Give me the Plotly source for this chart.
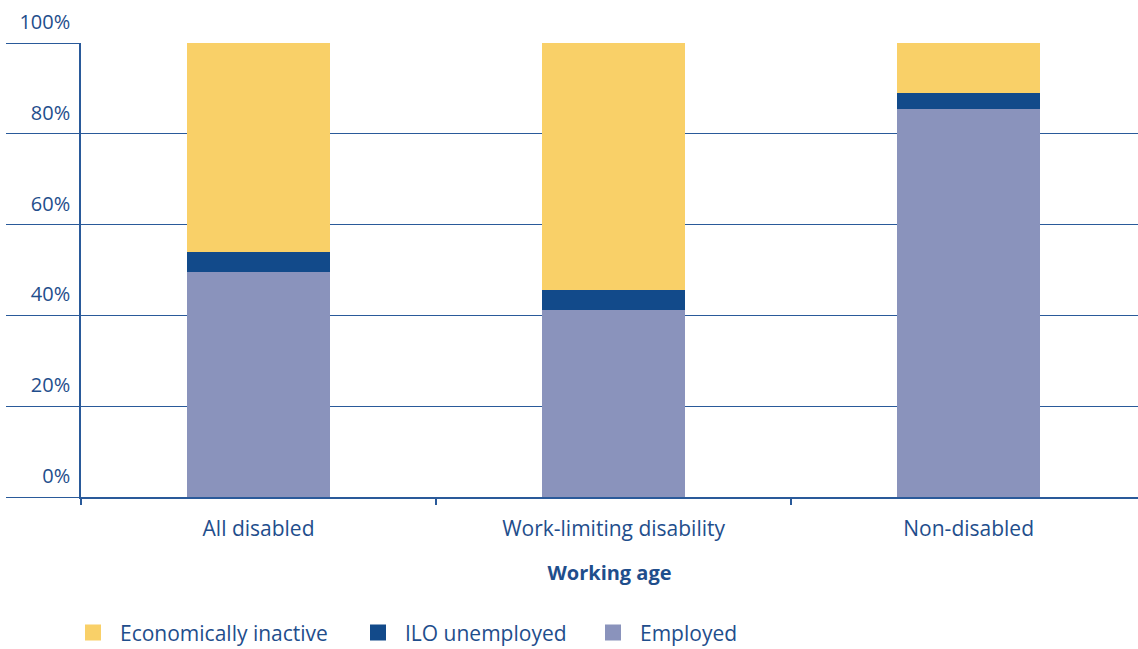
import plotly.graph_objects as go

# Labour market status by disability, working-age population (%)
categories = ["All disabled", "Work-limiting disability", "Non-disabled"]
employed = [49.6, 41.2, 85.5]
ilo_unemployed = [4.4, 4.4, 3.5]
economically_inactive = [46.0, 54.4, 11.0]

y_ticks = [0, 20, 40, 60, 80, 100]
y_tick_labels = ["0%", "20%", "40%", "60%", "80%", "100%"]

TEXT = "#1f4e8c"
LINE = "#2a5a9a"
FONT = "Open Sans"

series = [
    ("Employed", employed, "#8a93bc", "legend3"),
    ("ILO unemployed", ilo_unemployed, "#124a8a", "legend2"),
    ("Economically inactive", economically_inactive, "#f9d068", "legend"),
]

fig = go.Figure()
for name, values, color, leg in series:
    fig.add_bar(name=name, x=categories, y=values, marker_color=color,
                marker_line_width=0, width=0.403, showlegend=False)
    # legend-only entry with a larger square swatch
    fig.add_scatter(name=name, x=[None], y=[None], mode="markers",
                    marker=dict(symbol="square", size=22, color=color),
                    legend=leg, showlegend=True)

legend_style = dict(
    orientation="h",
    yref="container", y=0.025, yanchor="middle",
    xref="container", xanchor="left",
    font=dict(size=21, color=TEXT, family=FONT),
    itemsizing="trace", itemwidth=44,
    bgcolor="rgba(0,0,0,0)",
)

fig.update_layout(
    barmode="stack",
    width=1138, height=649,
    margin=dict(l=81, r=0, t=43, b=152),
    paper_bgcolor="white", plot_bgcolor="white",
    font=dict(family=FONT, color=TEXT, size=20),
    legend=dict(legend_style, x=66 / 1138),
    legend2=dict(legend_style, x=351 / 1138),
    legend3=dict(legend_style, x=586 / 1138),
)

fig.update_xaxes(
    range=[-0.5, 2.477],
    showgrid=False,
    showline=True, linecolor=LINE, linewidth=1.5,
    ticks="outside", tickson="boundaries", ticklen=6, tickcolor=LINE, tickwidth=1.5,
    ticklabelstandoff=12,
    tickfont=dict(size=21, color=TEXT),
    title=dict(text="<b>Working age</b>", font=dict(size=20, color=TEXT), standoff=25),
)

fig.update_yaxes(
    range=[0, 100],
    tickvals=y_ticks, ticktext=y_tick_labels,
    showgrid=True, gridcolor=LINE, gridwidth=1.2,
    zeroline=False,
    showline=True, linecolor=LINE, linewidth=1.5,
    ticks="outside", ticklen=73, tickcolor=LINE, tickwidth=1.2,
    ticklabelstandoff=-68, ticklabelshift=-21,
    tickfont=dict(size=20, color=TEXT),
)

fig.write_html("out.html")
